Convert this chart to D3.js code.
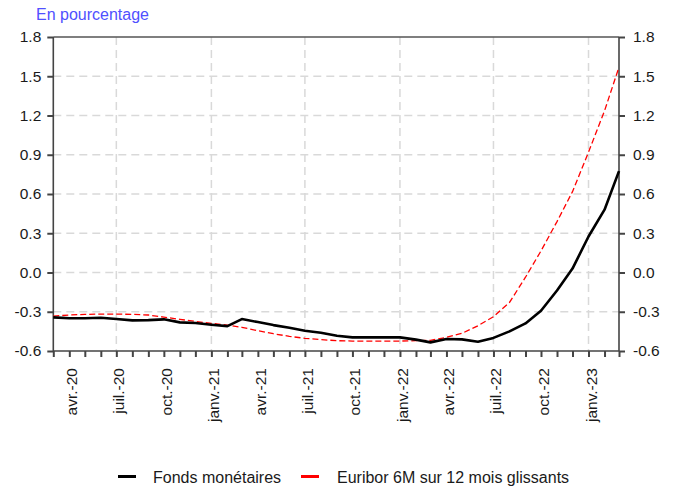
<!DOCTYPE html>
<html><head><meta charset="utf-8">
<script src="https://cdn.jsdelivr.net/npm/d3@7"></script>
<style>
body{margin:0;background:#fff;}
svg text{font-family:"Liberation Sans",Arial,sans-serif;}
</style></head>
<body><svg id="c" width="675" height="488"></svg>
<script>
const months = ["2020-03","2020-04","2020-05","2020-06","2020-07","2020-08","2020-09","2020-10","2020-11","2020-12",
"2021-01","2021-02","2021-03","2021-04","2021-05","2021-06","2021-07","2021-08","2021-09","2021-10","2021-11","2021-12",
"2022-01","2022-02","2022-03","2022-04","2022-05","2022-06","2022-07","2022-08","2022-09","2022-10","2022-11","2022-12",
"2023-01","2023-02","2023-03"];
const fonds = [-0.343,-0.35,-0.35,-0.346,-0.356,-0.366,-0.364,-0.358,-0.381,-0.386,-0.399,-0.41,
-0.356,-0.379,-0.402,-0.422,-0.445,-0.46,-0.484,-0.496,-0.496,-0.496,-0.496,-0.513,
-0.534,-0.508,-0.511,-0.529,-0.50,-0.45,-0.389,-0.292,-0.138,0.03,0.275,0.48,0.775];
const euribor = [-0.333,-0.325,-0.32,-0.318,-0.318,-0.32,-0.325,-0.341,-0.358,-0.374,-0.389,-0.402,
-0.419,-0.445,-0.468,-0.488,-0.503,-0.513,-0.521,-0.524,-0.524,-0.524,-0.524,-0.521,
-0.519,-0.496,-0.465,-0.407,-0.338,-0.229,-0.036,0.165,0.389,0.618,0.92,1.236,1.57];
const yTicks = [-0.6,-0.3,0.0,0.3,0.6,0.9,1.2,1.5,1.8];
const xLabelMonths = ["2020-04","2020-07","2020-10","2021-01","2021-04","2021-07","2021-10","2022-01","2022-04","2022-07","2022-10","2023-01"];
const xLabels = ["avr.-20","juil.-20","oct.-20","janv.-21","avr.-21","juil.-21","oct.-21","janv.-22","avr.-22","juil.-22","oct.-22","janv.-23"];
const vGridMonths = ["2020-07","2021-01","2021-07","2022-01","2022-07","2023-01"];
const seriesNames = ["Fonds monétaires","Euribor 6M sur 12 mois glissants"];

const parse = d3.timeParse("%Y-%m");
const dates = months.map(parse);
const L=53.3, R=619, T=37, B=351;
const svg = d3.select("#c");
const x = d3.scaleTime().domain([dates[0], dates[dates.length-1]]).range([L,R]);
const y = d3.scaleLinear().domain([-0.6,1.8]).range([B,T]);

// grid
const grid = svg.append("g").attr("stroke","#d9d9d9").attr("stroke-width",1.5).attr("stroke-dasharray","8,5");
yTicks.filter(v=>v>-0.6 && v<1.8).forEach(v=>{
  grid.append("line").attr("x1",L).attr("x2",R).attr("y1",y(v)).attr("y2",y(v));
});
vGridMonths.forEach(m=>{
  const xv=x(parse(m));
  grid.append("line").attr("x1",xv).attr("x2",xv).attr("y1",T).attr("y2",B);
});

// frame top
svg.append("line").attr("x1",L).attr("x2",R).attr("y1",T).attr("y2",T).attr("stroke","#555").attr("stroke-width",1.3);

// axes
const fmt = d3.format(".1f");
const yl = svg.append("g").attr("transform",`translate(${L},0)`)
  .call(d3.axisLeft(y).tickValues(yTicks).tickFormat(v=>fmt(v).replace("−","-")).tickSize(6).tickPadding(6));
const yr = svg.append("g").attr("transform",`translate(${R},0)`)
  .call(d3.axisRight(y).tickValues(yTicks).tickFormat(v=>fmt(v).replace("−","-")).tickSize(6).tickPadding(8));
const xa = svg.append("g").attr("transform",`translate(0,${B})`)
  .call(d3.axisBottom(x).tickValues(dates).tickFormat("").tickSize(6));
[yl,yr,xa].forEach(g=>{
  g.select(".domain").attr("stroke","#444").attr("stroke-width",1.6);
  g.selectAll(".tick line").attr("stroke","#444").attr("stroke-width",2);
  g.selectAll("text").attr("font-size",15.5).attr("fill","#1a1a1a").attr("font-family","Liberation Sans, Arial, sans-serif");
});
xa.select(".domain").attr("d",`M${L},0H${R}`);
yl.select(".domain").attr("d",`M0,${B}V${T}`);
yr.select(".domain").attr("d",`M0,${B}V${T}`);

// x labels
const xl = svg.append("g");
xLabelMonths.forEach((m,i)=>{
  const xv = x(parse(m));
  xl.append("text").attr("transform",`translate(${xv+8},${B+17}) rotate(-90)`)
    .attr("text-anchor","end").attr("font-size",15.5).attr("fill","#1a1a1a").text(xLabels[i]);
});

// lines
const line = d3.line().x((d,i)=>x(dates[i])).y(d=>y(d));
svg.append("path").datum(euribor).attr("d",line).attr("fill","none").attr("stroke","#ff0000")
  .attr("stroke-width",1.3).attr("stroke-dasharray","6,3");
svg.append("path").datum(fonds).attr("d",line).attr("fill","none").attr("stroke","#000")
  .attr("stroke-width",2.6).attr("stroke-linejoin","round");

// title
svg.append("text").attr("x",36).attr("y",19.5).attr("font-size",16).attr("fill","#5050ff").text("En pourcentage");

// legend
const lg = svg.append("g");
const items=[{x:118,c:"#000",t:seriesNames[0],tx:153},{x:301,c:"#ff0000",t:seriesNames[1],tx:337}];
items.forEach(it=>{
  lg.append("line").attr("x1",it.x).attr("x2",it.x+18).attr("y1",476.5).attr("y2",476.5).attr("stroke",it.c).attr("stroke-width",3);
  lg.append("text").attr("x",it.tx).attr("y",482.5).attr("font-size",16).attr("fill","#1a1a1a").text(it.t);
});
</script></body></html>
